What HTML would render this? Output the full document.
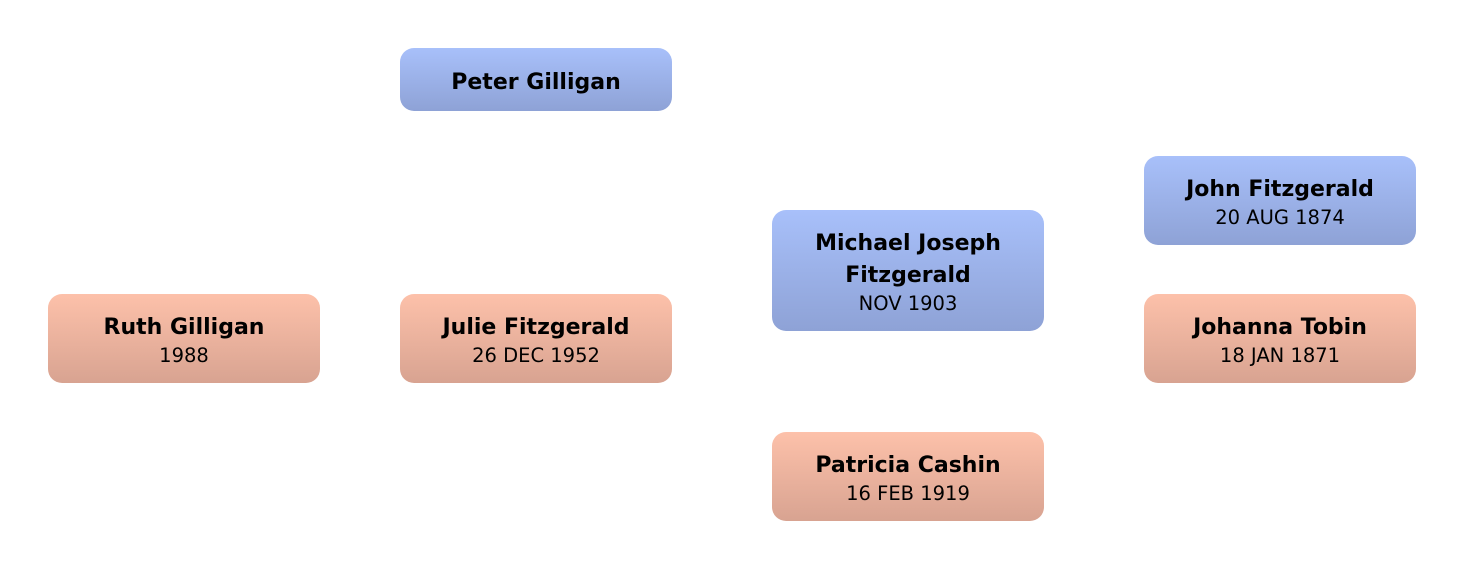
<!DOCTYPE html>
<html><head><meta charset="utf-8"><style>
body{margin:0;width:1464px;height:570px;background:#fff;position:relative;overflow:hidden;font-family:"DejaVu Sans","Liberation Sans",sans-serif;}
.b{position:absolute;width:272px;border-radius:14px;display:flex;flex-direction:column;align-items:center;justify-content:center;text-align:center;color:#000;box-sizing:border-box;padding-top:3px;}
.m{background:linear-gradient(#a8c0fa,#8ea2d6);}
.f{background:linear-gradient(#fdc1aa,#d8a391);}
.n{font-weight:bold;font-size:22px;line-height:32px;}
.d{font-size:19.5px;line-height:24px;}
</style></head><body>
<div class="b m" style="left:400px;top:48px;height:63px;padding-top:7px"><div class="n">Peter Gilligan</div></div>
<div class="b f" style="left:48px;top:294px;height:89px"><div class="n">Ruth Gilligan</div><div class="d">1988</div></div>
<div class="b f" style="left:400px;top:294px;height:89px"><div class="n">Julie Fitzgerald</div><div class="d">26 DEC 1952</div></div>
<div class="b m" style="left:772px;top:210px;height:121px"><div class="n">Michael Joseph<br>Fitzgerald</div><div class="d">NOV 1903</div></div>
<div class="b f" style="left:772px;top:432px;height:89px"><div class="n">Patricia Cashin</div><div class="d">16 FEB 1919</div></div>
<div class="b m" style="left:1144px;top:156px;height:89px"><div class="n">John Fitzgerald</div><div class="d">20 AUG 1874</div></div>
<div class="b f" style="left:1144px;top:294px;height:89px"><div class="n">Johanna Tobin</div><div class="d">18 JAN 1871</div></div>
</body></html>
